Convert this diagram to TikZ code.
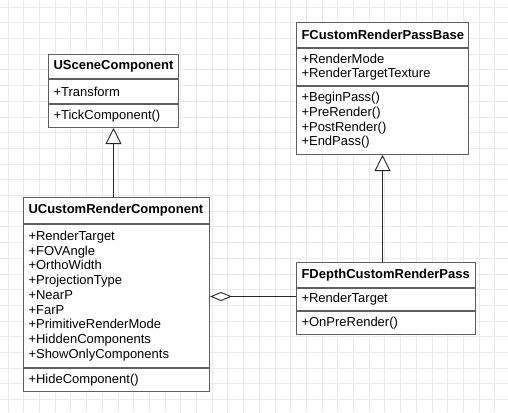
\documentclass[tikz,border=0pt]{standalone}
\usepackage{fontspec}
\setmainfont{Liberation Sans}
\usetikzlibrary{positioning,arrows.meta}
\definecolor{boxgray}{HTML}{5F5F5F}
\definecolor{gridgray}{HTML}{EAEAEA}

\begin{document}
\begin{tikzpicture}[
  x=1pt, y=-1pt,
  part/.style={draw=boxgray, line width=1pt, fill=white, inner xsep=5pt, inner ysep=0pt,
    align=left, font=\fontsize{13}{14.7}\selectfont, text width=#1},
  head/.style={part=#1, font=\fontsize{13}{14.7}\selectfont\bfseries},
  inherit/.style={draw=black!85, line width=0.9pt, -{Triangle[fill=white, length=16pt, width=16pt]}},
  aggr/.style={draw=black!85, line width=0.9pt, -{Diamond[fill=white, length=22pt, width=9pt]}}
]
  \useasboundingbox (0,0) rectangle (508,412);
  \fill[white] (0,0) rectangle (508,412);
  % background grid
  \foreach \gx in {8,23.7,...,508}
    \draw[gridgray, line width=0.8pt] (\gx,0) -- (\gx,412);
  \foreach \gy in {7,22.7,...,412}
    \draw[gridgray, line width=0.8pt] (0,\gy) -- (508,\gy);

  % USceneComponent
  \node[head=120pt, anchor=north west, minimum height=24pt] (uscHead) at (48,54) {USceneComponent};
  \node[part=120pt, minimum height=24pt, below=0pt of uscHead] (uscAttr) {+Transform};
  \node[part=120pt, minimum height=23pt, below=0pt of uscAttr] (uscMeth) {+TickComponent()};

  % FCustomRenderPassBase
  \node[head=162pt, anchor=north west, minimum height=25pt] (fbHead) at (296,22) {FCustomRenderPassBase};
  \node[part=162pt, minimum height=37pt, below=0pt of fbHead] (fbAttr) {+RenderMode\\+RenderTargetTexture};
  \node[part=162pt, minimum height=68pt, below=0pt of fbAttr] (fbMeth)
    {+BeginPass()\\+PreRender()\\+PostRender()\\+EndPass()};

  % UCustomRenderComponent
  \node[head=176pt, anchor=north west, minimum height=26pt] (ucrHead) at (23,197) {UCustomRenderComponent};
  \node[part=176pt, minimum height=143pt, below=0pt of ucrHead] (ucrAttr)
    {+RenderTarget\\+FOVAngle\\+OrthoWidth\\+ProjectionType\\+NearP\\+FarP\\
     +PrimitiveRenderMode\\+HiddenComponents\\+ShowOnlyComponents};
  \node[part=176pt, minimum height=23pt, below=0pt of ucrAttr] (ucrMeth) {+HideComponent()};

  % FDepthCustomRenderPass
  \node[head=169pt, anchor=north west, minimum height=25pt] (fdHead) at (296,262) {FDepthCustomRenderPass};
  \node[part=169pt, minimum height=22pt, below=0pt of fdHead] (fdAttr) {+RenderTarget};
  \node[part=169pt, minimum height=23pt, below=0pt of fdAttr] (fdMeth) {+OnPreRender()};

  % relations
  \draw[inherit] (ucrHead.north -| uscMeth.south) -- (uscMeth.south);
  \draw[inherit] (fdHead.north -| fbMeth.south) -- (fbMeth.south);
  \draw[aggr] ([yshift=3pt]fdAttr.west) -- ([yshift=3pt]fdAttr.west -| ucrAttr.east);
\end{tikzpicture}
\end{document}
